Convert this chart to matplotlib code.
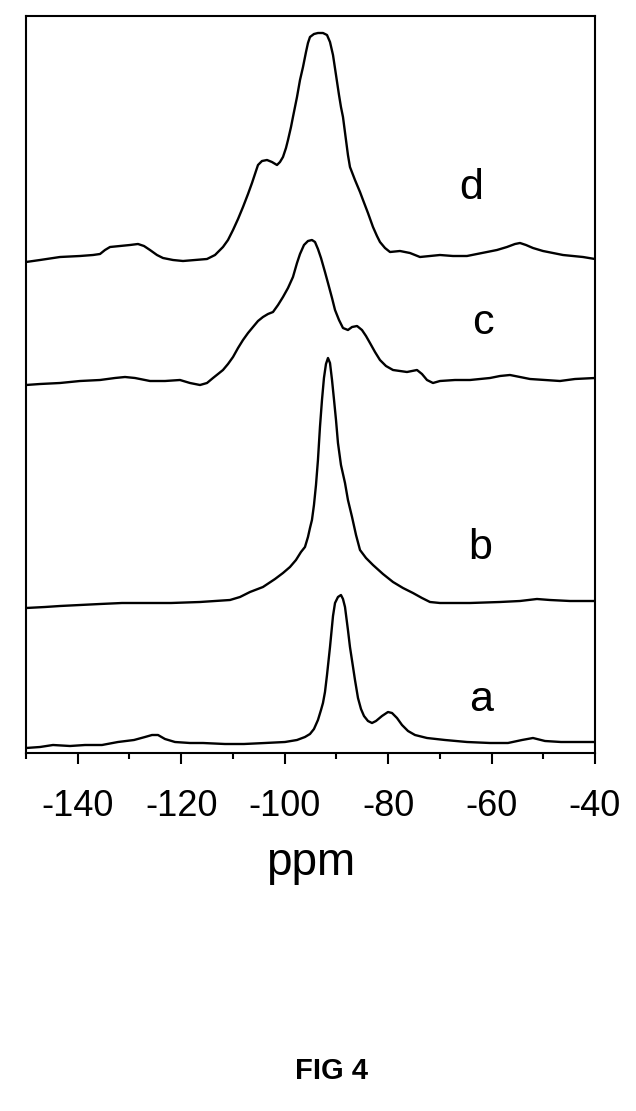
import matplotlib.pyplot as plt
from matplotlib.ticker import MultipleLocator

plt.rcParams['font.family'] = ['Liberation Sans', 'DejaVu Sans']

ppm_a = [-150, -147.29, -144.78, -141.49, -138.59, -135.31, -132.22, -129.12, -126.99,
         -125.64, -124.48, -123.13, -121.20, -118.30, -115.78, -111.53, -107.86, -103.80,
         -99.93, -97.61, -96.07, -95.10, -94.33, -93.56, -92.97, -92.59, -92.20, -91.81,
         -91.23, -90.65, -90.26, -89.69, -89.11, -88.72, -88.33, -87.76, -87.37, -86.78,
         -86.40, -85.82, -85.24, -84.66, -83.89, -83.11, -82.34, -81.18, -80.02, -79.24,
         -78.28, -77.31, -76.15, -74.80, -72.48, -69.00, -64.75, -60.30, -56.82, -54.11,
         -51.99, -49.67, -46.58, -42.91, -40.0]
int_a = [5, 6, 8, 7, 8, 8, 11, 13, 16,
         18, 18, 14, 11, 10, 10, 9, 9, 10,
         11, 13, 16, 19, 24, 33, 43, 50, 61, 78,
         106, 137, 150, 156, 158, 154, 146, 123, 106, 86,
         73, 55, 44, 37, 32, 30, 32, 37, 41, 40,
         35, 28, 22, 18, 15, 13, 11, 10, 10, 13,
         15, 12, 11, 11, 11]

ppm_b = [-150, -146.33, -143.43, -139.56, -135.69, -131.44, -126.03, -121.97, -116.36,
         -113.46, -110.56, -108.63, -106.70, -104.19, -101.86, -100.32, -98.97, -97.81,
         -96.84, -96.07, -95.49, -95.10, -94.72, -94.33, -93.94, -93.56, -93.17, -92.78,
         -92.40, -92.01, -91.62, -91.23, -90.84, -90.45, -90.07, -89.69, -89.11, -88.33,
         -87.76, -86.97, -86.20, -85.43, -84.27, -82.92, -80.99, -79.05, -77.12, -75.19,
         -73.45, -71.90, -69.97, -64.17, -58.37, -54.50, -51.22, -48.71, -44.84, -40.0]
int_b = [145, 146, 147, 148, 149, 150, 150, 150, 151,
         152, 153, 156, 161, 166, 174, 180, 186, 193,
         201, 206, 216, 225, 233, 248, 268, 293, 326, 353,
         375, 389, 395, 390, 373, 353, 333, 310, 288, 270,
         253, 236, 218, 203, 195, 188, 179, 171, 165, 160,
         155, 151, 150, 150, 151, 152, 154, 153, 152, 152]

ppm_c = [-150, -147.29, -143.43, -139.56, -135.69, -132.80, -130.86, -128.93, -126.03,
         -123.13, -120.23, -118.30, -116.36, -115.01, -113.85, -112.88, -111.92, -110.95,
         -109.98, -109.01, -108.05, -107.08, -106.12, -105.15, -104.19, -103.22, -102.25,
         -101.28, -100.32, -99.35, -98.39, -97.61, -97.03, -96.26, -95.49, -94.72, -94.13,
         -93.56, -92.97, -92.20, -91.62, -90.84, -90.26, -89.49, -88.72, -87.76, -86.97,
         -86.00, -85.05, -84.27, -83.50, -82.53, -81.57, -80.41, -79.05, -77.70, -76.35,
         -75.38, -74.41, -73.45, -72.48, -71.32, -69.97, -67.07, -64.17, -60.30, -58.37,
         -56.44, -54.50, -52.57, -49.67, -46.77, -43.87, -40.0]
int_c = [368, 369, 370, 372, 373, 375, 376, 375, 372,
         372, 373, 370, 368, 370, 375, 379, 383, 389,
         396, 405, 413, 420, 426, 432, 436, 439, 441,
         448, 456, 465, 476, 490, 499, 508, 512, 513, 511,
         504, 495, 481, 470, 455, 443, 433, 425, 423, 426,
         427, 423, 417, 410, 401, 393, 387, 383, 382, 381,
         382, 383, 379, 373, 370, 372, 373, 373, 375, 377,
         378, 376, 374, 373, 372, 374, 375]

ppm_d = [-150, -147.29, -143.43, -139.56, -137.05, -135.69, -134.73, -133.76, -131.83,
         -129.90, -128.35, -127.19, -126.03, -124.68, -123.52, -121.58, -119.65, -117.33,
         -115.01, -113.46, -111.92, -110.95, -109.98, -109.01, -108.05, -107.08, -106.31,
         -105.54, -105.15, -104.38, -103.41, -102.45, -101.48, -100.90, -100.32, -99.74,
         -99.35, -98.77, -98.39, -97.61, -97.03, -96.45, -95.87, -95.49, -95.10, -94.33,
         -93.56, -92.59, -91.81, -91.23, -90.65, -90.07, -89.49, -89.11, -88.72, -88.14,
         -87.76, -87.37, -86.40, -85.43, -84.85, -83.89, -82.92, -82.15, -81.57, -80.60,
         -79.63, -77.70, -75.77, -73.84, -71.90, -69.97, -67.46, -64.75, -62.82, -60.88,
         -58.95, -57.02, -55.47, -54.50, -53.34, -51.99, -50.06, -48.12, -46.19, -44.26,
         -42.33, -40.0]
int_d = [491, 493, 496, 497, 498, 499, 503, 506, 507,
         508, 509, 507, 503, 498, 495, 493, 492, 493,
         494, 498, 506, 513, 523, 534, 546, 559, 570,
         582, 588, 592, 593, 591, 588, 591, 596, 605,
         613, 626, 636, 656, 673, 686, 701, 710, 716, 719,
         720, 720, 718, 711, 698, 678, 658, 646, 636, 613,
         598, 586, 573, 561, 553, 540, 526, 517, 511, 505,
         501, 502, 500, 496, 497, 498, 497, 497, 499, 501,
         503, 506, 509, 510, 508, 505, 502, 500, 498, 497,
         496, 494]

labels = ['a', 'b', 'c', 'd']
label_ppm = [-62.0, -62.2, -61.7, -63.9]
label_int = [53, 205, 430, 565]

fig = plt.figure(figsize=(6.36, 11.11), dpi=100)
ax = fig.add_axes([26 / 636, 358 / 1111, 569 / 636, 737 / 1111])

for x, y in [(ppm_a, int_a), (ppm_b, int_b), (ppm_c, int_c), (ppm_d, int_d)]:
    ax.plot(x, y, color='black', lw=1.7, solid_joinstyle='round')

for t, x, y in zip(labels, label_ppm, label_int):
    ax.text(x, y, t, fontsize=31, ha='center', va='center')

ax.set_xlim(-150, -40)
ax.set_ylim(0, 737)
ax.set_yticks([])
ax.set_xticks([-140, -120, -100, -80, -60, -40])
ax.set_xticklabels(['-140', '-120', '-100', '-80', '-60', '-40'])
ax.xaxis.set_minor_locator(MultipleLocator(10))
ax.tick_params(axis='x', which='major', length=8, width=1.5, labelsize=26, pad=18)
ax.tick_params(axis='x', which='minor', length=4.5, width=1.5)
for s in ax.spines.values():
    s.set_linewidth(1.5)

ax.set_xlabel('ppm', fontsize=33, labelpad=12)

fig.text(331 / 636, 1 - 1071 / 1111, 'FIG 4', fontsize=21, fontweight='bold',
         ha='center', va='center')

fig.savefig('out.png', dpi=100)
